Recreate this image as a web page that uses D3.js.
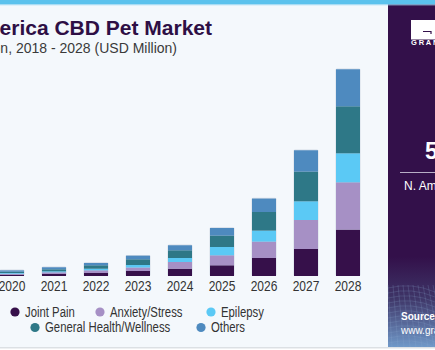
<!DOCTYPE html>
<html>
<head>
<meta charset="utf-8">
<script src="https://cdn.jsdelivr.net/npm/d3@7"></script>
<style>
  body { margin: 0; background: #ffffff; }
  svg { display: block; }
</style>
</head>
<body>
<div id="chart"></div>
<script>
// years on the x axis (2018 and 2019 sit off the left edge of the crop)
const years = ["2018", "2019", "2020", "2021", "2022", "2023", "2024", "2025", "2026", "2027", "2028"];
const segments = ["Joint Pain", "Anxiety/Stress", "Epilepsy", "General Health/Wellness", "Others"];

// USD Million
const jointPain = [1.5, 2, 2.6, 4, 6, 10, 14.6, 21.4, 36, 54, 92.8];
const anxiety   = [1.2, 1.6, 2, 3.4, 5.4, 7, 13.4, 20, 32.8, 58, 94.6];
const epilepsy  = [0.6, 1, 1.4, 2, 3.2, 5, 8, 16.6, 22, 37.4, 58];
const wellness  = [1.2, 1.8, 2.6, 4, 6.8, 11.4, 15.4, 22.8, 37.2, 59.4, 94];
const others    = [1, 1.6, 2.6, 4, 4.6, 7.2, 10, 15.2, 26.8, 42.6, 74];

const colors = ["#36104a", "#a690c5", "#5bc9f5", "#2e7887", "#4e8abf"];

const W = 435, H = 350;
const FONT = "'Liberation Sans', Arial, sans-serif";
const svg = d3.select("#chart").append("svg").attr("width", W).attr("height", H);

// the source font is a narrow gothic, squeeze the glyphs horizontally
function narrow(sel, k) {
    sel.each(function () {
        let w = this.getComputedTextLength();
        d3.select(this).attr("textLength", w * k).attr("lengthAdjust", "spacingAndGlyphs");
    });
}

// background
svg.append("rect").attr("width", W).attr("height", H).attr("fill", "#f4f8fc");
svg.append("rect").attr("x", 0).attr("y", 347.5).attr("width", W).attr("height", 1)
    .attr("fill", "#c4c8cc");
svg.append("rect").attr("x", 0).attr("y", 348.5).attr("width", W).attr("height", 2)
    .attr("fill", "#ffffff");

// build table for the stack
let table = years.map((y, i) => ({
    year: y,
    "Joint Pain": jointPain[i],
    "Anxiety/Stress": anxiety[i],
    "Epilepsy": epilepsy[i],
    "General Health/Wellness": wellness[i],
    "Others": others[i]
}));
let stacked = d3.stack().keys(segments)(table);

let x = d3.scaleBand().domain(years).range([-93, 369]).paddingInner(18 / 42).paddingOuter(9 / 42);
let y = d3.scaleLinear().domain([0, 450]).range([276, 51]);

// faint outline behind each bar
let totals = table.map(d => segments.reduce((s, k) => s + d[k], 0));
svg.append("g").selectAll("rect")
    .data(years)
    .enter().append("rect")
    .attr("x", d => x(d) - 0.5)
    .attr("y", (d, i) => y(totals[i]) - 0.8)
    .attr("width", x.bandwidth() + 1)
    .attr("height", (d, i) => y(0) - y(totals[i]) + 0.8)
    .attr("rx", 1.5)
    .attr("fill", "#d3dbe6");

let layer = svg.append("g").selectAll("g")
    .data(stacked)
    .enter().append("g")
    .attr("fill", (d, i) => colors[i]);

layer.selectAll("rect")
    .data(d => d)
    .enter().append("rect")
    .attr("x", d => x(d.data.year))
    .attr("y", d => y(d[1]))
    .attr("width", x.bandwidth())
    .attr("height", d => y(d[0]) - y(d[1]));

// x axis labels
let xAxis = d3.axisBottom(x).tickSize(0).tickPadding(0);
let gx = svg.append("g").attr("transform", "translate(0,291)").call(xAxis);
gx.select(".domain").remove();
gx.selectAll("text")
    .attr("dy", 0)
    .attr("font-family", FONT)
    .attr("font-size", 15)
    .attr("fill", "#333333")
    .call(narrow, 0.8);

// legend
const legendPos = [[15, 312], [100, 312], [211, 312], [35, 327.5], [201, 327.5]];
let legend = svg.append("g").selectAll("g")
    .data(segments)
    .enter().append("g")
    .attr("transform", (d, i) => `translate(${legendPos[i][0]},${legendPos[i][1]})`);
legend.append("circle").attr("r", 4.6).attr("fill", (d, i) => colors[i]);
legend.append("text")
    .attr("x", 10)
    .attr("dy", "0.35em")
    .attr("font-family", FONT)
    .attr("font-size", 14)
    .attr("fill", "#333333")
    .text(d => d)
    .call(narrow, 0.81);

// title
svg.append("text")
    .attr("x", 212).attr("y", 35)
    .attr("text-anchor", "end")
    .attr("font-family", FONT)
    .attr("font-weight", "bold")
    .attr("font-size", 21)
    .attr("fill", "#2e0f45")
    .text("North America CBD Pet Market");
svg.append("text")
    .attr("x", 177).attr("y", 53.3)
    .attr("text-anchor", "end")
    .attr("font-family", FONT)
    .attr("font-size", 14)
    .attr("fill", "#3a3a3a")
    .text("North America CBD pet market size, by application, 2018 - 2028 (USD Million)");

// right panel
let defs = svg.append("defs");
let grad = defs.append("linearGradient").attr("id", "panelGrad")
    .attr("x1", 0).attr("y1", 0).attr("x2", 0).attr("y2", 1);
grad.append("stop").attr("offset", "0").attr("stop-color", "#33104a");
grad.append("stop").attr("offset", "0.74").attr("stop-color", "#33104a");
grad.append("stop").attr("offset", "0.86").attr("stop-color", "#3e3567");
grad.append("stop").attr("offset", "1").attr("stop-color", "#6f98c8");

svg.append("rect").attr("x", 388).attr("y", 0).attr("width", 47).attr("height", 347)
    .attr("fill", "url(#panelGrad)");

// mesh texture in the lower part of the panel
let mesh = svg.append("g").attr("stroke", "#8aa6cf").attr("stroke-opacity", 0.35)
    .attr("stroke-width", 0.6).attr("fill", "none");
d3.range(0, 12).forEach(i => {
    mesh.append("path").attr("d", `M388,${288 + i * 5} Q412,${282 + i * 5} 435,${292 + i * 5}`);
});
d3.range(0, 10).forEach(i => {
    mesh.append("path").attr("d", `M${388 + i * 5},285 L${392 + i * 6},347`);
});

// top strip
svg.append("rect").attr("x", 0).attr("y", 0).attr("width", W).attr("height", 4.5)
    .attr("fill", "#5bc2ed");
svg.append("rect").attr("x", 0).attr("y", 4.5).attr("width", W).attr("height", 0.8)
    .attr("fill", "#a9dcf3");

// logo box
svg.append("rect").attr("x", 411).attr("y", 20).attr("width", 30).attr("height", 19.5)
    .attr("fill", "#ffffff");
svg.append("path").attr("d", "M423,31.5 L431,31.5 L431,34")
    .attr("stroke", "#33104a").attr("stroke-width", 1.2).attr("fill", "none");
svg.append("text")
    .attr("x", 411).attr("y", 45)
    .attr("font-family", FONT)
    .attr("font-weight", "bold")
    .attr("font-size", 7.5)
    .attr("letter-spacing", 1.8)
    .attr("fill", "#ffffff")
    .text("GRAND VIEW RESEARCH");

svg.append("text")
    .attr("x", 425).attr("y", 159)
    .attr("font-family", FONT)
    .attr("font-weight", "bold")
    .attr("font-size", 23)
    .attr("fill", "#ffffff")
    .text("5");
svg.append("line")
    .attr("x1", 400).attr("x2", 435).attr("y1", 172.5).attr("y2", 172.5)
    .attr("stroke", "#b8aec6").attr("stroke-width", 1);
svg.append("text")
    .attr("x", 404).attr("y", 190)
    .attr("font-family", FONT)
    .attr("font-size", 12)
    .attr("fill", "#ffffff")
    .text("N. America Market Size");

svg.append("text")
    .attr("x", 401).attr("y", 319.5)
    .attr("font-family", FONT)
    .attr("font-weight", "bold")
    .attr("font-size", 10)
    .attr("fill", "#ffffff")
    .text("Source:");
svg.append("text")
    .attr("x", 401).attr("y", 333.5)
    .attr("font-family", FONT)
    .attr("font-size", 10)
    .attr("fill", "#ffffff")
    .text("www.grandviewresearch.com");
</script>
</body>
</html>
